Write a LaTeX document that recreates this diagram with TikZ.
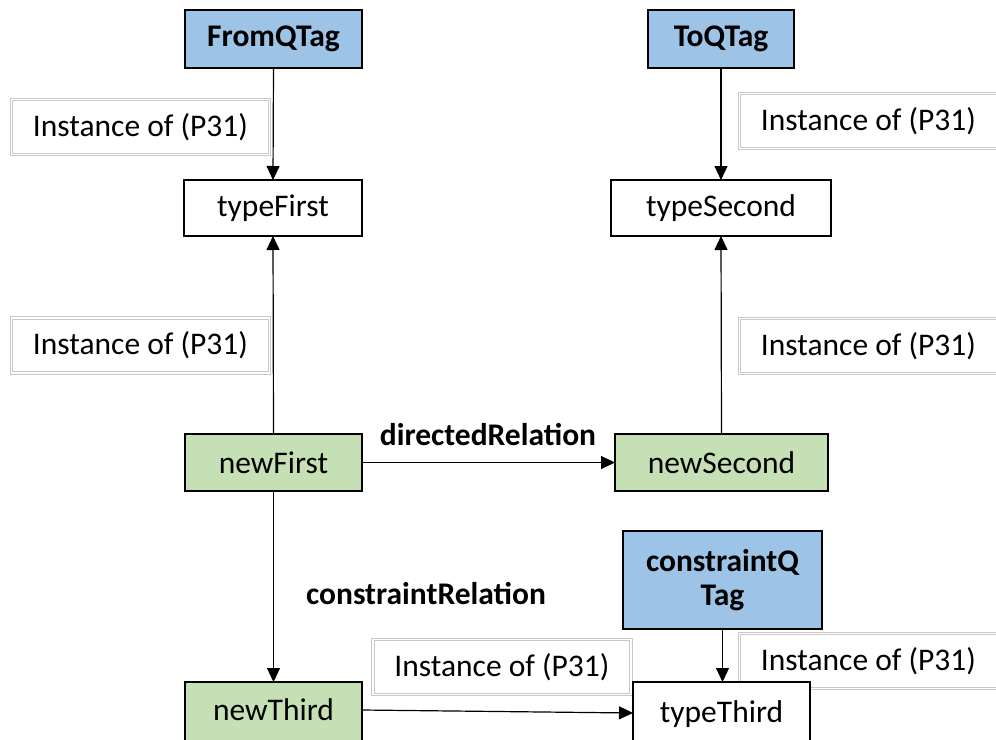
\documentclass[tikz,border=0pt]{standalone}
\usepackage{fontspec}
\setmainfont{Carlito}
\usetikzlibrary{arrows.meta,calc}

\definecolor{qtagblue}{HTML}{9DC3E6}
\definecolor{itemgreen}{HTML}{C5E0B4}
\definecolor{labelgray}{HTML}{C8C8C8}

\tikzset{
  base/.style={font=\fontsize{31.5}{36}\selectfont, inner sep=0pt, outer sep=0pt},
  box/.style={base, draw=black, line width=1.5pt, minimum height=57},
  qtag/.style={box, fill=qtagblue, font=\fontsize{31.5}{36}\selectfont\bfseries},
  item/.style={box, fill=itemgreen},
  typebox/.style={box, fill=white},
  instlabel/.style={base, fill=white, draw=labelgray, line width=0.9pt,
    double=white, double distance=1.4pt, minimum width=258, minimum height=55},
  rellabel/.style={base, font=\fontsize{31.5}{36}\selectfont\bfseries},
  link/.style={line width=1.2pt, -{Triangle[length=14pt,width=13pt]}}
}

\begin{document}
\begin{tikzpicture}[x=1pt, y=-1pt]
  \useasboundingbox (0,0) rectangle (996,739);
  \clip (0,0) rectangle (996,739);

  % property labels
  \node[instlabel] (l1) at (140.5,127) {Instance of (P31)};
  \node[instlabel] (l2) at (868.5,121) {Instance of (P31)};
  \node[instlabel] (l3) at (140.5,345.5) {Instance of (P31)};
  \node[instlabel] (l4) at (868.5,346) {Instance of (P31)};
  \node[instlabel] (l5) at (502,667) {Instance of (P31)};
  \node[instlabel] (l6) at (868.5,661) {Instance of (P31)};

  % query tags
  \node[qtag, minimum width=177, minimum height=58] (fromq) at (273.5,39) {FromQTag};
  \node[qtag, minimum width=146, minimum height=58] (toq) at (721,39) {ToQTag};
  \node[qtag, minimum width=199, minimum height=98, align=center] (cq) at (722.5,580)
    {constraintQ\\[-2pt]Tag};

  % types
  \node[typebox, minimum width=178, minimum height=56] (tfirst) at (273,208) {typeFirst};
  \node[typebox, minimum width=220, minimum height=56] (tsecond) at (721,208) {typeSecond};

  % new items
  \node[item, minimum width=177] (nfirst) at (273.5,462.5) {newFirst};
  \node[item, minimum width=213] (nsecond) at (721.5,462.5) {newSecond};
  \node[item, minimum width=177, minimum height=0, anchor=north,
        text height=38, text depth=40] (nthird) at (273.5,682) {newThird};
  \node[typebox, minimum width=177, minimum height=0, anchor=north,
        text height=40, text depth=38] (tthird) at (721.5,682) {typeThird};

  % relation names
  \node[rellabel] (rel1) at (488,435) {directedRelation};
  \node[rellabel] (rel2) at (426,594) {constraintRelation};

  % connectors
  \draw[link] (fromq.south) -- (tfirst.north);
  \draw[link] (toq.south) -- (tsecond.north);
  \draw[link] (nfirst.north) -- (tfirst.south);
  \draw[link] (nsecond.north) -- (tsecond.south);
  \draw[link] (nfirst.east) -- (nsecond.west);
  \draw[link] (nfirst.south) -- (nthird.north);
  \draw[link] ($(nthird.north east)+(0,28)$) -- ($(tthird.north west)+(0,31)$);
  \draw[link] (cq.south) -- (cq.south |- tthird.north);
\end{tikzpicture}
\end{document}
